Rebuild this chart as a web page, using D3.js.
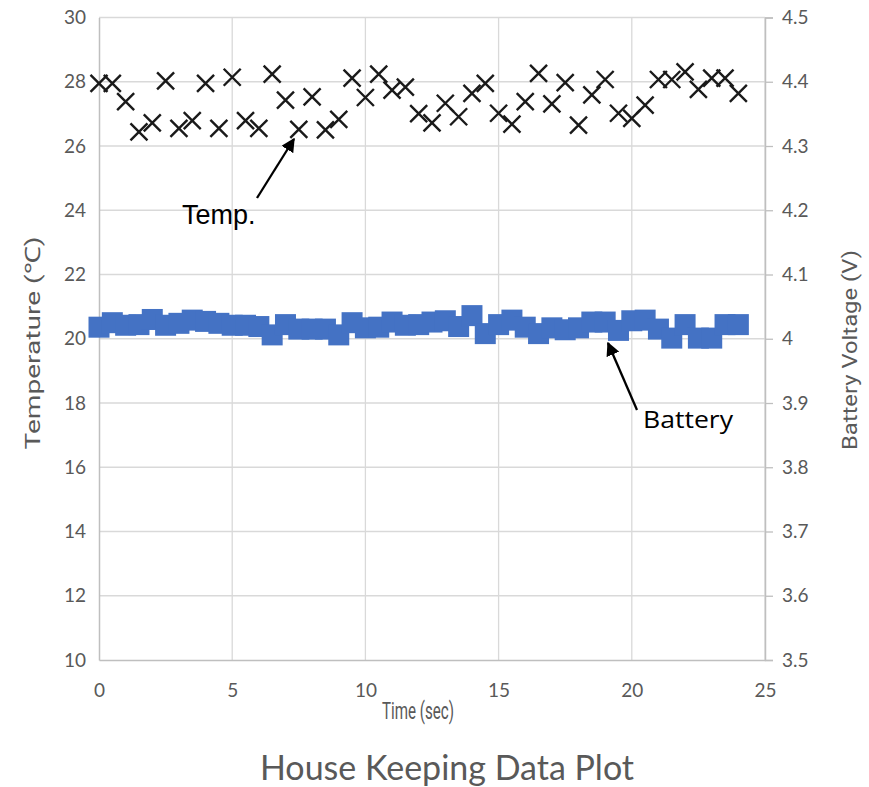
<!DOCTYPE html>
<html>
<head>
<meta charset="utf-8">
<script src="https://cdn.jsdelivr.net/npm/d3@7"></script>
<style>
  html, body { margin: 0; padding: 0; background: #fff; }
  svg { display: block; }
</style>
</head>
<body>
<svg id="chart" width="869" height="787"></svg>
<script>
// ---- data ----
const times = d3.range(0, 24.01, 0.5).map(v => +v.toFixed(1));
const temperature = [
  27.95, 27.95, 27.38, 26.44, 26.72, 28.03, 26.55, 26.79, 27.95, 26.55,
  28.14, 26.79, 26.55, 28.24, 27.43, 26.52, 27.53, 26.50, 26.83, 28.11,
  27.51, 28.24, 27.74, 27.83, 27.01, 26.72, 27.33, 26.91, 27.64, 27.95,
  27.02, 26.68, 27.38, 28.26, 27.31, 27.97, 26.65, 27.59, 28.07, 27.02,
  26.86, 27.27, 28.07, 28.07, 28.31, 27.76, 28.11, 28.11, 27.64
];
const battery = [
  4.018, 4.025, 4.021, 4.022, 4.030, 4.021, 4.024, 4.029, 4.027, 4.024,
  4.021, 4.021, 4.019, 4.006, 4.022, 4.015, 4.015, 4.015, 4.006, 4.025,
  4.017, 4.018, 4.026, 4.021, 4.022, 4.026, 4.028, 4.019, 4.036, 4.008,
  4.022, 4.029, 4.018, 4.008, 4.017, 4.014, 4.017, 4.026, 4.026, 4.013,
  4.028, 4.029, 4.015, 4.001, 4.022, 4.001, 4.001, 4.022, 4.022
];
const xTicks = [0, 5, 10, 15, 20, 25];
const tempTicks = [10, 12, 14, 16, 18, 20, 22, 24, 26, 28, 30];
const voltTicks = [3.5, 3.6, 3.7, 3.8, 3.9, 4, 4.1, 4.2, 4.3, 4.4, 4.5];

// ---- layout ----
const L = 99, R = 765, T = 17.5, B = 660;
const svg = d3.select("#chart");
const x = d3.scaleLinear().domain([0, 25]).range([L, R]);
const yT = d3.scaleLinear().domain([10, 30]).range([B, T]);
const yV = d3.scaleLinear().domain([3.5, 4.5]).range([B, T]);

const gridColor = "#d9d9d9", axisColor = "#bfbfbf", labelColor = "#595959";
const tickFont = "Lato, 'Open Sans', sans-serif";

// gridlines
svg.append("g").selectAll("line.h").data(tempTicks.filter(d => d > 10)).join("line")
  .attr("x1", L).attr("x2", R).attr("y1", d => yT(d)).attr("y2", d => yT(d))
  .attr("stroke", gridColor).attr("stroke-width", 1.3);
svg.append("g").selectAll("line.v").data(xTicks.filter(d => d > 0)).join("line")
  .attr("x1", d => x(d)).attr("x2", d => x(d)).attr("y1", T).attr("y2", B)
  .attr("stroke", gridColor).attr("stroke-width", 1.3);

// axes
const axL = svg.append("g").attr("transform", `translate(${L},0)`)
  .call(d3.axisLeft(yT).tickValues(tempTicks).tickSize(0).tickPadding(13));
const axR = svg.append("g").attr("transform", `translate(${R},0)`)
  .call(d3.axisRight(yV).tickValues(voltTicks).tickSize(8).tickPadding(9)
    .tickFormat(d => d3.format("")(+d.toFixed(1))));
const axB = svg.append("g").attr("transform", `translate(0,${B})`)
  .call(d3.axisBottom(x).tickValues(xTicks).tickSize(0).tickPadding(24));
[axL, axR, axB].forEach(g => {
  g.select(".domain").attr("stroke", axisColor).attr("stroke-width", 1.5);
  g.selectAll(".tick line").attr("stroke", axisColor).attr("stroke-width", 1.3);
  g.selectAll("text").attr("fill", labelColor).attr("font-size", 19).attr("font-family", tickFont);
});

// temperature markers (X)
const s = 8.5;
svg.append("g").selectAll("path").data(times).join("path")
  .attr("d", (t, i) => {
    const cx = x(t), cy = yT(temperature[i]);
    return `M${cx - s},${cy - s}L${cx + s},${cy + s}M${cx - s},${cy + s}L${cx + s},${cy - s}`;
  })
  .attr("stroke", "#1a1a1a").attr("stroke-width", 2.4).attr("fill", "none");

// battery markers (squares)
const q = 21;
svg.append("g").selectAll("rect").data(times).join("rect")
  .attr("x", t => x(t) - q / 2)
  .attr("y", (t, i) => yV(battery[i]) - q / 2)
  .attr("width", q).attr("height", q)
  .attr("fill", "#4472c4");

// axis titles
const titleFont = "Roboto, 'Liberation Sans', sans-serif";
svg.append("text")
  .attr("transform", `translate(40,${343}) rotate(-90)`)
  .attr("text-anchor", "middle").attr("fill", labelColor)
  .attr("font-family", titleFont).attr("font-size", 21)
  .attr("textLength", 213).attr("lengthAdjust", "spacingAndGlyphs")
  .text("Temperature  (\u2103)");
svg.append("text")
  .attr("transform", `translate(857,${350}) rotate(-90)`)
  .attr("text-anchor", "middle").attr("fill", labelColor)
  .attr("font-family", titleFont).attr("font-size", 21)
  .attr("textLength", 200).attr("lengthAdjust", "spacingAndGlyphs")
  .text("Battery Voltage  (V)");
svg.append("text")
  .attr("x", 418).attr("y", 719).attr("text-anchor", "middle").attr("fill", labelColor)
  .attr("font-family", titleFont).attr("font-size", 23)
  .attr("textLength", 72).attr("lengthAdjust", "spacingAndGlyphs")
  .text("Time (sec)");
svg.append("text")
  .attr("x", 447).attr("y", 780).attr("text-anchor", "middle").attr("fill", labelColor)
  .attr("font-family", tickFont).attr("font-size", 34)
  .text("House Keeping  Data Plot");

// annotations
const defs = svg.append("defs");
defs.append("marker").attr("id", "ah").attr("viewBox", "0 0 10 10")
  .attr("refX", 9).attr("refY", 5).attr("markerWidth", 6).attr("markerHeight", 6)
  .attr("orient", "auto-start-reverse").attr("markerUnits", "strokeWidth")
  .append("path").attr("d", "M0,0L10,5L0,10z").attr("fill", "#000");
svg.append("line").attr("x1", 257).attr("y1", 198).attr("x2", 294).attr("y2", 139)
  .attr("stroke", "#000").attr("stroke-width", 2.3).attr("marker-end", "url(#ah)");
svg.append("text").attr("x", 182).attr("y", 224).attr("fill", "#000")
  .attr("font-family", "'Liberation Sans', Arial, sans-serif").attr("font-size", 27).text("Temp.");
svg.append("line").attr("x1", 637).attr("y1", 410).attr("x2", 608).attr("y2", 343)
  .attr("stroke", "#000").attr("stroke-width", 2.3).attr("marker-end", "url(#ah)");
svg.append("text").attr("x", 643).attr("y", 428).attr("fill", "#000")
  .attr("font-family", "'Open Sans', Roboto, sans-serif").attr("font-size", 23)
  .attr("textLength", 90).attr("lengthAdjust", "spacingAndGlyphs").text("Battery");
</script>
</body>
</html>
